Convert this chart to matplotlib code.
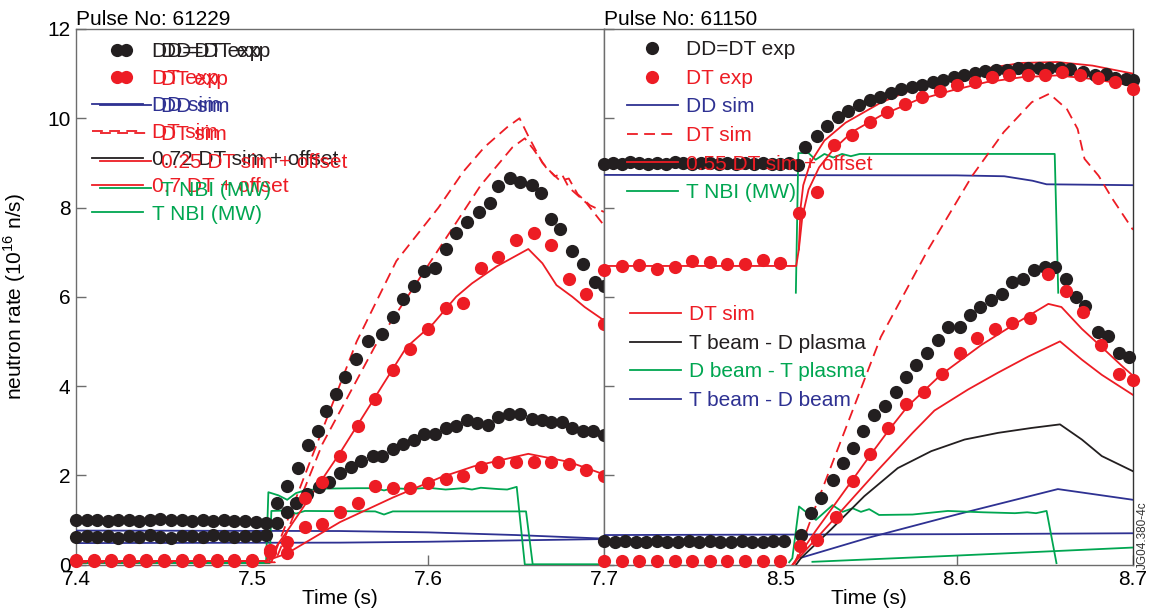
import matplotlib
matplotlib.use('Agg')
import matplotlib.pyplot as plt
from matplotlib.lines import Line2D

plt.rcParams['font.family'] = ['Liberation Sans', 'DejaVu Sans']
plt.rcParams['mathtext.fontset'] = 'custom'
plt.rcParams['mathtext.rm'] = 'Liberation Sans'

RED = '#ED1C24'
BLK = '#231F20'
BLU = '#2E3192'
GRN = '#00A651'

# ---------------- Pulse 61229 (left) ----------------
L_dd_hi_t = [7.400, 7.406, 7.412, 7.418, 7.424, 7.430, 7.436, 7.442, 7.448, 7.454, 7.460, 7.466, 7.472,
             7.478, 7.484, 7.490, 7.496, 7.502, 7.508, 7.514, 7.520, 7.526, 7.532, 7.5375, 7.542, 7.548,
             7.553, 7.559, 7.566, 7.574, 7.580, 7.586, 7.592, 7.598, 7.604, 7.610, 7.616, 7.622, 7.629,
             7.635, 7.640, 7.6465, 7.652, 7.659, 7.664, 7.670, 7.675, 7.682, 7.688, 7.695, 7.700]
L_dd_hi_v = [1.00, 0.99, 1.00, 0.98, 0.99, 1.00, 0.98, 0.99, 1.01, 1.00, 0.99, 0.98, 0.99,
             0.97, 0.99, 0.98, 0.97, 0.96, 0.94, 1.38, 1.77, 2.17, 2.68, 3.00, 3.44, 3.83,
             4.20, 4.60, 5.00, 5.17, 5.55, 5.96, 6.25, 6.57, 6.64, 7.07, 7.42, 7.68, 7.89,
             8.09, 8.49, 8.66, 8.57, 8.51, 8.32, 7.74, 7.51, 7.02, 6.74, 6.34, 6.24]

L_dd_lo_t = [7.400, 7.406, 7.412, 7.418, 7.424, 7.430, 7.436, 7.442, 7.448, 7.454, 7.460, 7.466, 7.472,
             7.478, 7.484, 7.490, 7.496, 7.502, 7.508, 7.514, 7.520, 7.525, 7.531, 7.538, 7.544, 7.550,
             7.556, 7.562, 7.569, 7.574, 7.580, 7.586, 7.592, 7.598, 7.604, 7.610, 7.616, 7.622, 7.628,
             7.634, 7.640, 7.646, 7.652, 7.659, 7.665, 7.670, 7.676, 7.682, 7.688, 7.694, 7.700]
L_dd_lo_v = [0.62, 0.63, 0.62, 0.64, 0.60, 0.63, 0.62, 0.65, 0.62, 0.60, 0.63, 0.64, 0.62,
             0.65, 0.63, 0.62, 0.64, 0.63, 0.66, 0.92, 1.17, 1.38, 1.58, 1.73, 1.85, 2.05,
             2.18, 2.32, 2.44, 2.44, 2.59, 2.71, 2.79, 2.92, 2.92, 3.05, 3.10, 3.24, 3.18,
             3.12, 3.31, 3.38, 3.38, 3.26, 3.24, 3.20, 3.20, 3.05, 2.99, 2.99, 2.90]

L_dt_t = [7.40, 7.41, 7.42, 7.43, 7.44, 7.45, 7.46, 7.47, 7.48, 7.49, 7.50, 7.51, 7.52, 7.53, 7.54,
          7.55, 7.56, 7.57, 7.58, 7.59, 7.60, 7.61, 7.62, 7.63, 7.64, 7.65, 7.66, 7.67, 7.68, 7.69, 7.70]
L_dt_hi_v = [0.10, 0.09, 0.10, 0.09, 0.10, 0.09, 0.10, 0.10, 0.09, 0.10, 0.10, 0.33, 0.51, 1.49, 1.85,
             2.43, 3.10, 3.70, 4.35, 4.84, 5.28, 5.74, 5.87, 6.64, 6.90, 7.27, 7.42, 7.17, 6.40, 6.06, 5.40]
L_dt_lo_v = [0.08, 0.08, 0.07, 0.08, 0.08, 0.07, 0.08, 0.08, 0.07, 0.08, 0.08, 0.28, 0.25, 0.85, 0.90,
             1.17, 1.38, 1.77, 1.71, 1.71, 1.83, 1.92, 1.98, 2.18, 2.30, 2.30, 2.30, 2.30, 2.26, 2.11, 1.98]

L_dtsim_a_t = [7.400, 7.511, 7.530, 7.5595, 7.582, 7.606, 7.620, 7.632, 7.645, 7.652, 7.657, 7.665,
               7.672, 7.676, 7.680, 7.690, 7.700]
L_dtsim_a_v = [0.05, 0.05, 2.0, 5.0, 6.8, 8.0, 8.8, 9.35, 9.8, 10.0, 9.6, 9.0,
               8.7, 8.75, 8.45, 8.1, 7.6]
L_dtsim_b_t = [7.400, 7.513, 7.540, 7.570, 7.590, 7.610, 7.630, 7.648, 7.655, 7.660, 7.667, 7.675,
               7.680, 7.685, 7.692, 7.700]
L_dtsim_b_v = [0.05, 0.05, 2.7, 4.9, 6.1, 7.3, 8.5, 9.35, 9.55, 9.3, 8.9, 8.6,
               8.65, 8.3, 8.05, 7.9]

L_s07_t = [7.400, 7.508, 7.520, 7.550, 7.5878, 7.603, 7.616, 7.625, 7.639, 7.657, 7.665, 7.673,
           7.682, 7.689, 7.700]
L_s07_v = [0.08, 0.08, 0.75, 2.5, 4.87, 5.4, 6.0, 6.3, 6.68, 7.07, 6.75, 6.26, 6.0, 5.77, 5.47]
L_s025_t = [7.400, 7.508, 7.520, 7.550, 7.580, 7.607, 7.626, 7.657, 7.680, 7.700]
L_s025_v = [0.08, 0.08, 0.25, 0.95, 1.5, 1.95, 2.2, 2.48, 2.3, 2.02]

L_ddsim_a_t = [7.40, 7.55, 7.60, 7.65, 7.70]
L_ddsim_a_v = [0.76, 0.75, 0.72, 0.66, 0.58]
L_ddsim_b_t = [7.40, 7.55, 7.60, 7.65, 7.70]
L_ddsim_b_v = [0.48, 0.49, 0.51, 0.54, 0.57]

L_nbi_a_t = [7.400, 7.508, 7.5093, 7.515, 7.520, 7.525, 7.530, 7.540, 7.560, 7.570, 7.575, 7.580,
             7.590, 7.600, 7.610, 7.620, 7.625, 7.630, 7.640, 7.645, 7.6504, 7.655, 7.700]
L_nbi_a_v = [0.05, 0.05, 1.62, 1.55, 1.45, 1.60, 1.66, 1.70, 1.71, 1.71, 1.66, 1.71,
             1.69, 1.72, 1.68, 1.71, 1.68, 1.72, 1.69, 1.68, 1.74, 0.0, 0.0]
L_nbi_b_t = [7.400, 7.510, 7.511, 7.520, 7.525, 7.530, 7.570, 7.575, 7.580, 7.6557, 7.6595, 7.700]
L_nbi_b_v = [0.03, 0.03, 1.20, 1.21, 1.14, 1.20, 1.19, 1.12, 1.19, 1.19, 0.0, 0.0]

# ---------------- Pulse 61150 (right) ----------------
R_dd_hi_t = [8.400, 8.405, 8.410, 8.415, 8.420, 8.425, 8.430, 8.435, 8.440, 8.445, 8.450, 8.455,
             8.460, 8.465, 8.470, 8.475, 8.480, 8.485, 8.490, 8.495, 8.500, 8.505, 8.510,
             8.5141, 8.5207, 8.5267, 8.5327, 8.5386, 8.5446, 8.5506, 8.5566, 8.5625, 8.5685, 8.5745,
             8.5805, 8.5865, 8.5924, 8.5984, 8.6044, 8.6104, 8.6163, 8.6223, 8.6283, 8.6347, 8.6406,
             8.6466, 8.6526, 8.6586, 8.6645, 8.6715, 8.6785, 8.6845, 8.6900, 8.6960, 8.7000]
R_dd_hi_v = [8.98, 9.00, 8.97, 9.01, 8.99, 8.98, 9.00, 8.97, 9.02, 9.00, 8.98, 9.00,
             8.99, 8.97, 9.00, 8.98, 8.99, 8.97, 9.00, 8.98, 8.97, 8.99, 8.96,
             9.35, 9.60, 9.82, 10.02, 10.17, 10.30, 10.40, 10.47, 10.57, 10.66, 10.70,
             10.75, 10.81, 10.85, 10.92, 10.97, 11.02, 11.05, 11.08, 11.09, 11.12, 11.12,
             11.12, 11.12, 11.12, 11.10, 11.03, 10.96, 11.00, 10.90, 10.87, 10.85]

R_dt_hi_t = [8.40, 8.41, 8.42, 8.43, 8.44, 8.45, 8.46, 8.47, 8.48, 8.49, 8.50,
             8.5108, 8.5207, 8.5307, 8.5406, 8.5506, 8.5606, 8.5705, 8.5805, 8.5905, 8.6004,
             8.6104, 8.6203, 8.6297, 8.6402, 8.6502, 8.66, 8.67, 8.68, 8.69, 8.70]
R_dt_hi_v = [6.60, 6.70, 6.72, 6.63, 6.67, 6.80, 6.78, 6.73, 6.73, 6.82, 6.76,
             7.87, 8.34, 9.40, 9.63, 9.91, 10.15, 10.32, 10.47, 10.60, 10.75,
             10.81, 10.92, 10.96, 10.97, 10.97, 11.03, 10.96, 10.90, 10.82, 10.66]

R_s055_a_t = [8.400, 8.509, 8.5105, 8.5115, 8.513, 8.517, 8.525, 8.537, 8.557, 8.577, 8.597,
              8.617, 8.637, 8.657, 8.677, 8.700]
R_s055_a_v = [6.69, 6.69, 7.06, 8.0, 8.5, 9.0, 9.5, 9.9, 10.35, 10.68, 10.92,
              11.12, 11.24, 11.26, 11.18, 11.0]
R_s055_b_t = [8.5105, 8.5125, 8.516, 8.522, 8.530, 8.541, 8.557, 8.577, 8.597, 8.617, 8.637,
              8.657, 8.677, 8.700]
R_s055_b_v = [7.06, 7.8, 8.4, 8.9, 9.3, 9.7, 10.06, 10.4, 10.62, 10.81, 10.92,
              10.96, 10.88, 10.73]

R_dtsim_t = [8.508, 8.520, 8.540, 8.557, 8.5837, 8.6088, 8.6267, 8.6426, 8.6526, 8.6626,
             8.6686, 8.6725, 8.6805, 8.6884, 8.700]
R_dtsim_v = [0.0, 1.3, 3.35, 5.1, 7.05, 8.71, 9.69, 10.36, 10.55, 10.2,
             9.76, 9.09, 8.71, 8.19, 7.5]

R_ddsim_hi_t = [8.40, 8.60, 8.627, 8.643, 8.651, 8.70]
R_ddsim_hi_v = [8.73, 8.72, 8.70, 8.60, 8.52, 8.50]

R_nbi_hi_t = [8.5088, 8.5102, 8.516, 8.520, 8.525, 8.530, 8.535, 8.540, 8.545, 8.6556, 8.6576]
R_nbi_hi_v = [6.09, 9.22, 9.22, 9.07, 9.20, 9.12, 9.20, 9.15, 9.20, 9.20, 6.09]

R_dd_lo_t = [8.400, 8.406, 8.412, 8.418, 8.424, 8.430, 8.436, 8.442, 8.448, 8.454, 8.460, 8.466,
             8.472, 8.478, 8.484, 8.490, 8.496, 8.502,
             8.5116, 8.5172, 8.523, 8.5296, 8.5353, 8.541, 8.5467, 8.5533, 8.5594, 8.5656, 8.5713,
             8.577, 8.583, 8.5893, 8.595, 8.6017, 8.6074, 8.6134, 8.6197, 8.6258, 8.6315, 8.6375,
             8.6436, 8.650, 8.656, 8.6618, 8.6675, 8.673, 8.680, 8.686, 8.692, 8.698]
R_dd_lo_v = [0.52, 0.50, 0.52, 0.51, 0.50, 0.52, 0.51, 0.50, 0.52, 0.51, 0.52, 0.50,
             0.51, 0.52, 0.50, 0.51, 0.52, 0.53,
             0.66, 1.15, 1.48, 1.89, 2.28, 2.60, 3.00, 3.35, 3.55, 3.87, 4.21,
             4.47, 4.74, 5.02, 5.33, 5.33, 5.59, 5.78, 5.93, 6.06, 6.32, 6.40,
             6.59, 6.66, 6.66, 6.40, 6.00, 5.80, 5.20, 5.12, 4.74, 4.66]

R_dt_lo_t = [8.40, 8.41, 8.42, 8.43, 8.44, 8.45, 8.46, 8.47, 8.48, 8.49, 8.50,
             8.5111, 8.521, 8.5315, 8.541, 8.551, 8.5613, 8.5713, 8.5814, 8.5916, 8.6017,
             8.6117, 8.6216, 8.6315, 8.6415, 8.6516, 8.6618, 8.6719, 8.6819, 8.6921, 8.700]
R_dt_lo_v = [0.07, 0.07, 0.07, 0.07, 0.07, 0.07, 0.07, 0.07, 0.07, 0.07, 0.07,
             0.41, 0.55, 1.07, 1.88, 2.48, 3.05, 3.60, 3.87, 4.27, 4.74,
             5.07, 5.27, 5.41, 5.52, 6.51, 6.12, 5.65, 4.92, 4.27, 4.14]

R_dtsim_a_t = [8.507, 8.520, 8.541, 8.551, 8.5613, 8.5723, 8.591, 8.614, 8.633, 8.652, 8.6594,
               8.671, 8.6823, 8.6937, 8.700]
R_dtsim_a_v = [0.0, 0.75, 1.9, 2.45, 3.0, 3.55, 4.25, 4.92, 5.39, 5.84, 5.77,
               5.28, 4.87, 4.45, 4.23]
R_dtsim_b_t = [8.507, 8.530, 8.555, 8.575, 8.5874, 8.6064, 8.6235, 8.6406, 8.6586, 8.671, 8.6823, 8.700]
R_dtsim_b_v = [0.0, 1.0, 2.1, 2.95, 3.45, 3.92, 4.3, 4.66, 5.0, 4.59, 4.25, 3.8]

R_tbdp_t = [8.509, 8.5116, 8.5286, 8.5476, 8.5666, 8.5856, 8.6045, 8.6235, 8.6425, 8.6586,
            8.671, 8.6823, 8.700]
R_tbdp_v = [0.0, 0.14, 0.78, 1.53, 2.16, 2.54, 2.80, 2.95, 3.06, 3.14, 2.80, 2.43, 2.09]

R_ddsim_lo_t = [8.40, 8.50, 8.60, 8.70]
R_ddsim_lo_v = [0.66, 0.67, 0.68, 0.70]

R_tbdb_t = [8.5116, 8.55, 8.60, 8.6574, 8.70]
R_tbdb_v = [0.15, 0.60, 1.12, 1.69, 1.45]

R_nbi_lo_t = [8.505, 8.5068, 8.5106, 8.5202, 8.5296, 8.5353, 8.541, 8.5457, 8.5504, 8.556,
              8.575, 8.595, 8.615, 8.633, 8.640, 8.645, 8.651, 8.6566]
R_nbi_lo_v = [0.05, 0.14, 1.30, 1.00, 1.33, 1.18, 1.26, 1.18, 1.24, 1.11,
              1.12, 1.20, 1.17, 1.15, 1.17, 1.15, 1.20, 0.03]

R_dbtp_t = [8.5182, 8.60, 8.70]
R_dbtp_v = [0.06, 0.20, 0.38]

# ---------------- figure ----------------
W, H = 1152, 614
fig = plt.figure(figsize=(W / 100, H / 100), dpi=100)
ybot, ytop = 564.5, 29
axL = fig.add_axes([76 / W, (H - ybot) / H, 528 / W, (ybot - ytop) / H])
axR = fig.add_axes([604 / W, (H - ybot) / H, 529 / W, (ybot - ytop) / H])

LW = 1.3
MS = 9.5
DASH = (6, 3.5)
FS = 15

def dots(ax, t, v, c):
    ax.plot(t, v, 'o', color=c, ms=MS, mec='none', zorder=4, clip_on=False)

def line(ax, t, v, c, dashed=False):
    l, = ax.plot(t, v, '-', color=c, lw=LW, zorder=3)
    if dashed:
        l.set_dashes(DASH)

# left panel
line(axL, L_ddsim_a_t, L_ddsim_a_v, BLU)
line(axL, L_ddsim_b_t, L_ddsim_b_v, BLU)
line(axL, L_nbi_a_t, L_nbi_a_v, GRN)
line(axL, L_nbi_b_t, L_nbi_b_v, GRN)
line(axL, L_dtsim_a_t, L_dtsim_a_v, RED, dashed=True)
line(axL, L_dtsim_b_t, L_dtsim_b_v, RED, dashed=True)
line(axL, L_s07_t, L_s07_v, RED)
line(axL, L_s025_t, L_s025_v, RED)
dots(axL, L_dd_hi_t, L_dd_hi_v, BLK)
dots(axL, L_dd_lo_t, L_dd_lo_v, BLK)
dots(axL, L_dt_t, L_dt_hi_v, RED)
dots(axL, L_dt_t, L_dt_lo_v, RED)

# right panel
line(axR, R_ddsim_hi_t, R_ddsim_hi_v, BLU)
line(axR, R_ddsim_lo_t, R_ddsim_lo_v, BLU)
line(axR, R_tbdb_t, R_tbdb_v, BLU)
line(axR, R_nbi_hi_t, R_nbi_hi_v, GRN)
line(axR, R_nbi_lo_t, R_nbi_lo_v, GRN)
line(axR, R_dbtp_t, R_dbtp_v, GRN)
line(axR, R_tbdp_t, R_tbdp_v, BLK)
line(axR, R_dtsim_t, R_dtsim_v, RED, dashed=True)
line(axR, R_s055_a_t, R_s055_a_v, RED)
line(axR, R_s055_b_t, R_s055_b_v, RED)
line(axR, R_dtsim_a_t, R_dtsim_a_v, RED)
line(axR, R_dtsim_b_t, R_dtsim_b_v, RED)
dots(axR, R_dd_hi_t, R_dd_hi_v, BLK)
dots(axR, R_dt_hi_t, R_dt_hi_v, RED)
dots(axR, R_dd_lo_t, R_dd_lo_v, BLK)
dots(axR, R_dt_lo_t, R_dt_lo_v, RED)

SP = '#6d6d6d'
for ax in (axL, axR):
    ax.set_ylim(0, 12)
    for s in ax.spines.values():
        s.set_color(SP)
        s.set_linewidth(1.0)
    ax.tick_params(direction='in', length=7, width=1, color=SP, labelsize=FS,
                   top=False, right=False, pad=4)
    ax.set_yticks([0, 2, 4, 6, 8, 10, 12])
    ax.set_xlabel('Time (s)', fontsize=FS, labelpad=0)

axL.set_xlim(7.4, 7.7)
axL.set_xticks([7.4, 7.5, 7.6, 7.7])
axL.set_xticklabels(['7.4', '7.5', '7.6', '7.7'])
axL.set_yticklabels(['0', '2', '4', '6', '8', '10', '12'])
axL.set_ylabel('neutron rate (10$^{16}$ n/s)', fontsize=FS)
axL.yaxis.set_label_coords(-0.090, 0.5)

axR.set_xlim(8.4, 8.7)
axR.set_xticks([8.5, 8.6, 8.7])
axR.set_xticklabels(['8.5', '8.6', '8.7'])
axR.tick_params(labelleft=False)
axR.spines['right'].set_color('#333333')

axL.set_title('Pulse No: 61229', loc='left', fontsize=15, pad=1)
axR.set_title('Pulse No: 61150', loc='left', fontsize=15, pad=1)

def P(c, ls='-', marker=None):
    if marker:
        return Line2D([], [], ls='none', marker='o', color=c, ms=MS, mec='none')
    l = Line2D([], [], ls='-', color=c, lw=LW)
    if ls == '--':
        l.set_dashes(DASH)
    return l

common = dict(frameon=False, fontsize=FS, handlelength=2.45, borderpad=0, borderaxespad=0,
              numpoints=1, handleheight=0.7)

# left legends (two overlapping)
legA = axL.legend([P(BLK, marker=1), P(RED, marker=1), P(BLU), P(RED, '--'), P(BLK), P(RED), P(GRN)],
                  ['DD=DT exp', 'DT exp', 'DD sim', 'DT sim', '0.72 DT sim + offset',
                   '0.7 DT + offset', 'T NBI (MW)'],
                  loc='upper left', bbox_to_anchor=(0.030, 0.976), labelspacing=0.39,
                  handletextpad=0.42, **common)
for t, c in zip(legA.get_texts(), [BLK, RED, BLU, RED, BLK, RED, GRN]):
    t.set_color(c)
axL.add_artist(legA)
legB = axL.legend([P(BLK, marker=1), P(RED, marker=1), P(BLU), P(RED, '--'), P(RED), P(GRN)],
                  ['DD=DT exp', 'DT exp', 'DD sim', 'DT sim', '0.25 DT sim + offset', 'T NBI (MW)'],
                  loc='upper left', bbox_to_anchor=(0.046, 0.976), labelspacing=0.42,
                  handletextpad=0.45, **common)
for t, c in zip(legB.get_texts(), [BLK, RED, BLU, RED, RED, GRN]):
    t.set_color(c)

# right legends
leg1 = axR.legend([P(BLK, marker=1), P(RED, marker=1), P(BLU), P(RED, '--'), P(RED), P(GRN)],
                  ['DD=DT exp', 'DT exp', 'DD sim', 'DT sim', '0.55 DT sim + offset', 'T NBI (MW)'],
                  loc='upper left', bbox_to_anchor=(0.043, 0.979), labelspacing=0.46,
                  handletextpad=0.4, **common)
for t, c in zip(leg1.get_texts(), [BLK, RED, BLU, RED, RED, GRN]):
    t.set_color(c)
axR.add_artist(leg1)
leg2 = axR.legend([P(RED), P(BLK), P(GRN), P(BLU)],
                  ['DT sim', 'T beam - D plasma', 'D beam - T plasma', 'T beam - D beam'],
                  loc='upper left', bbox_to_anchor=(0.049, 0.484), labelspacing=0.46,
                  handletextpad=0.4, **common)
for t, c in zip(leg2.get_texts(), [RED, BLK, GRN, BLU]):
    t.set_color(c)

fig.text(1143 / W, (H - 535) / H, 'JG04.380-4c', rotation=90, ha='center', va='center',
         fontsize=8.5, color='#333333')

fig.savefig('out.png', dpi=100)
